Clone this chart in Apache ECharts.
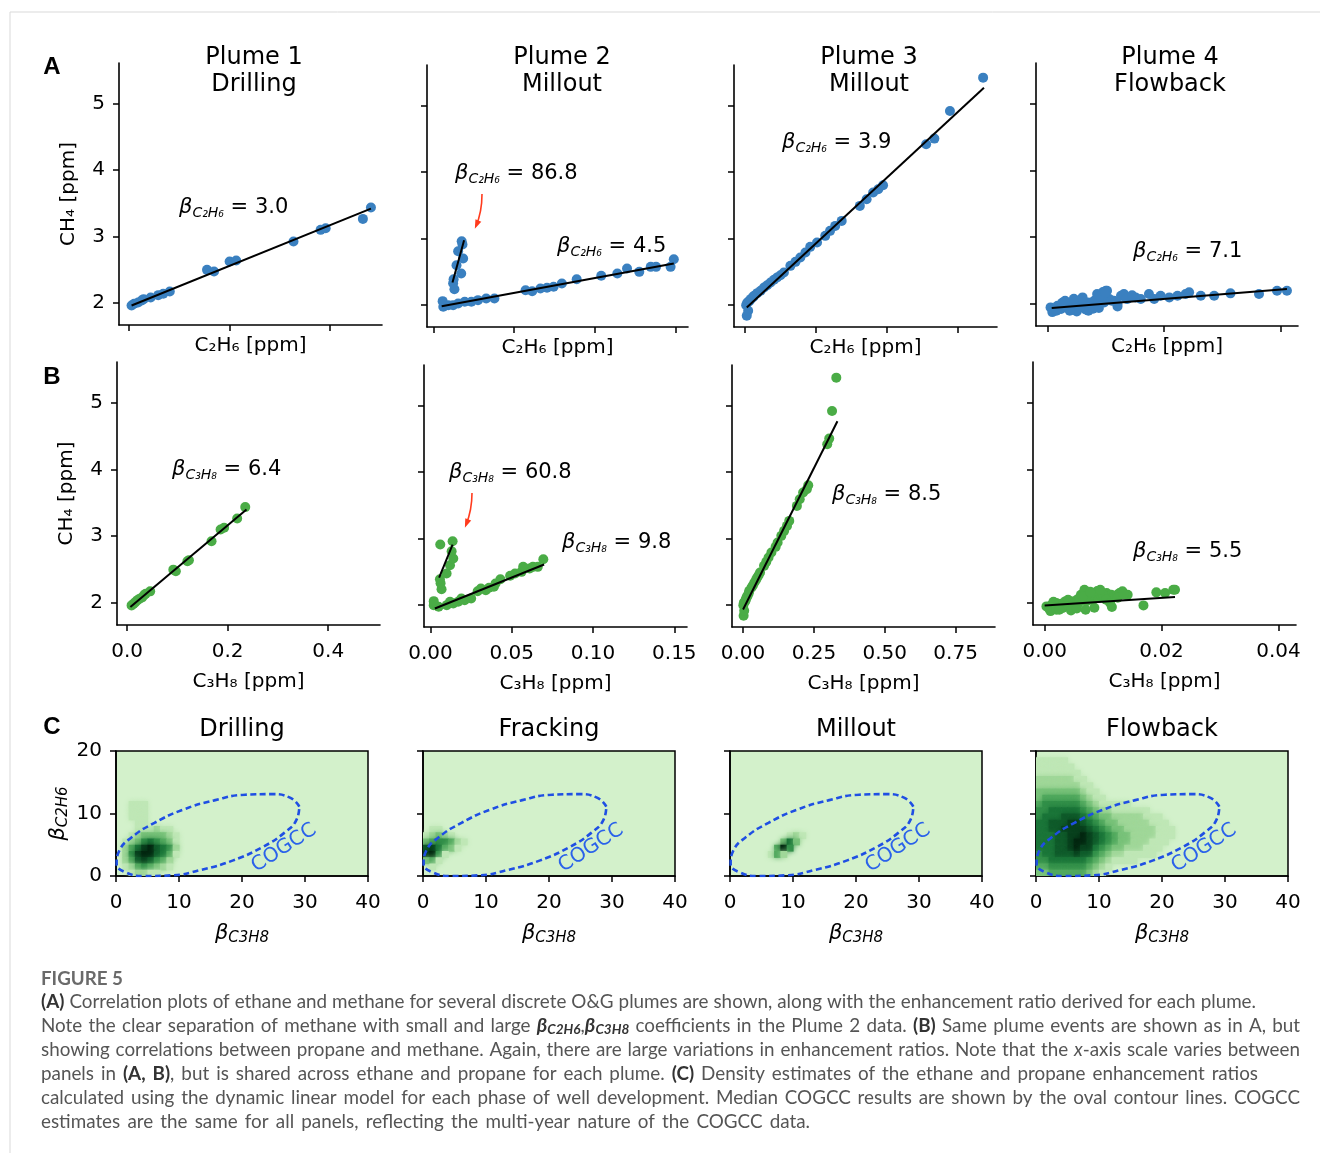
<!DOCTYPE html>
<html>
<head>
<meta charset="utf-8">
<title>Figure 5</title>
<script src="https://cdn.jsdelivr.net/npm/echarts@6.0.0/dist/echarts.min.js"></script>
<style>
html,body{margin:0;padding:0;background:#ffffff;}
#chart{width:1320px;height:1153px;}
</style>
</head>
<body>
<div id="chart"></div>
<script>
// ======================= DATA =======================
// Plume 1 (Drilling)
const plume1CH4  = [1.965,1.99,2.01,2.04,2.06,2.085,2.12,2.14,2.175,2.50,2.475,2.625,2.64,2.925,3.10,3.125,3.265,3.435];
const plume1C2H6 = [0.005,0.010,0.018,0.025,0.029,0.043,0.058,0.068,0.081,0.155,0.169,0.200,0.213,0.327,0.381,0.391,0.465,0.481];
const plume1C3H8 = [0.009,0.013,0.016,0.020,0.024,0.030,0.034,0.037,0.046,0.092,0.097,0.120,0.123,0.168,0.186,0.193,0.219,0.235];
// Plume 2 (Millout): main branch then steep branch
const plume2CH4  = [1.975,2.00,2.00,2.025,2.05,2.05,2.06,2.075,2.10,2.10,2.21,2.225,2.25,2.26,2.275,2.325,2.39,2.44,2.475,2.50,2.55,2.575,2.575,2.575,2.69,
                    2.24,2.33,2.39,2.475,2.60,2.70,2.81,2.91,2.96];
const plume2C2H6 = [0.0061,0.0092,0.0122,0.0153,0.0194,0.0235,0.0057,0.0276,0.0327,0.0378,0.0612,0.0571,0.0663,0.0704,0.0745,0.0796,0.0888,0.104,0.114,0.1276,0.120,0.1347,0.138,0.147,0.149,
                    0.0130,0.0122,0.0125,0.0172,0.0143,0.0184,0.0153,0.0180,0.0175];
const plume2C3H8 = [0.005,0.002,0.010,0.014,0.012,0.017,0.002,0.021,0.019,0.025,0.029,0.034,0.031,0.036,0.039,0.040,0.043,0.049,0.052,0.056,0.061,0.057,0.063,0.066,0.0694,
                    0.0068,0.0062,0.0058,0.0099,0.0120,0.0140,0.0130,0.0060,0.0136];
// Plume 3 (Millout)
const plume3CH4  = [1.84,1.915,2.00,2.04,2.06,2.09,2.12,2.14,2.18,2.215,2.265,2.30,2.34,2.38,2.415,2.45,2.49,2.59,2.65,2.715,2.79,2.875,2.94,3.04,3.115,3.19,3.265,3.49,3.59,3.69,3.74,3.80,4.415,4.50,4.915,5.415];
const plume3C2H6 = [0.006,0.011,0.004,0.008,0.015,0.020,0.028,0.032,0.043,0.055,0.067,0.078,0.090,0.102,0.113,0.125,0.137,0.160,0.178,0.195,0.213,0.230,0.254,0.283,0.300,0.318,0.341,0.405,0.429,0.452,0.470,0.487,0.639,0.668,0.723,0.840];
const plume3C3H8 = [0.002,0.004,0.001,0.003,0.008,0.010,0.013,0.016,0.020,0.022,0.030,0.035,0.040,0.046,0.050,0.055,0.060,0.074,0.082,0.090,0.100,0.115,0.122,0.135,0.145,0.155,0.163,0.190,0.200,0.212,0.225,0.230,0.297,0.304,0.314,0.329];
// Plume 4 (Flowback)
const plume4CH4  = [1.95,1.91,1.975,1.925,2.00,1.95,1.99,1.925,2.025,1.975,1.95,2.025,1.975,2.05,2.00,2.125,2.20,2.025,2.075,2.05,2.125,2.15,2.075,2.10,2.075,2.15,2.075,2.125,2.10,2.125,2.15,2.175,2.125,2.125,2.16,2.15,2.20,2.20,1.965,
                    1.88,1.90,2.05,2.08,1.89,2.10,1.92,2.15,1.90,2.18,2.12,1.93,2.05,1.95,2.20,2.00,1.90,2.08,2.13,1.94,2.02,2.17];
const plume4C2H6 = [0.0005,0.0011,0.0017,0.0023,0.0029,0.0034,0.0040,0.0046,0.0051,0.0057,0.0063,0.0069,0.0074,0.0080,0.0086,0.0091,0.0100,0.0097,0.0106,0.0114,0.0126,0.0131,0.0137,0.0151,0.0160,0.0174,0.0183,0.0194,0.0209,0.0223,0.0237,0.0243,0.0263,0.0286,0.0314,0.0363,0.0394,0.0411,0.0120,
                    0.0008,0.0015,0.0030,0.0045,0.0050,0.0060,0.0065,0.0085,0.0070,0.0095,0.0090,0.0078,0.0110,0.0055,0.0102,0.0120,0.0038,0.0135,0.0145,0.0088,0.0025,0.0099];
const plume4C3H8 = [0.0003,0.0008,0.0012,0.0015,0.0020,0.0024,0.0028,0.0031,0.0035,0.0038,0.0042,0.0046,0.0050,0.0055,0.0058,0.0062,0.0068,0.0071,0.0075,0.0079,0.0083,0.0088,0.0092,0.0097,0.0101,0.0106,0.0110,0.0114,0.0118,0.0124,0.0128,0.0133,0.0138,0.0142,0.0191,0.0206,0.0220,0.0223,0.0169,
                    0.0010,0.0020,0.0040,0.0060,0.0045,0.0065,0.0055,0.0080,0.0070,0.0090,0.0100,0.0085,0.0105,0.0030,0.0095,0.0112,0.0025,0.0125,0.0135,0.0115,0.0015,0.0078];

// Regression lines [[x1,y1],[x2,y2]] and the plume panel each belongs to
const fitPanel = [0, 1, 1, 2, 3];
const fitC2H6 = [
  [[0.005, 1.965], [0.481, 3.42]],
  [[0.0051, 1.985], [0.149, 2.625]],
  [[0.0118, 2.34], [0.019, 2.975]],
  [[0.006, 1.965], [0.843, 5.265]],
  [[0.0007, 1.94], [0.0411, 2.225]]
];
const fitC3H8 = [
  [[0.0066, 1.94], [0.2375, 3.40]],
  [[0.0027, 1.95], [0.0699, 2.61]],
  [[0.0053, 2.415], [0.0136, 2.91]],
  [[0.0, 1.935], [0.333, 4.76]],
  [[0.0, 1.965], [0.0223, 2.09]]
];
const betaC2H6Text = ['3.0', '86.8', '4.5', '3.9', '7.1'];
const betaC3H8Text = ['6.4', '60.8', '9.8', '8.5', '5.5'];

// Tick values
const yTicks = [2, 3, 4, 5];
const plumeXTicks = [[0, 0.2, 0.4], [0, 0.05, 0.10, 0.15], [0, 0.25, 0.50, 0.75], [0, 0.02, 0.04]];
const plumeXDecimals = [1, 2, 2, 2];
const plumeTitles = ['Plume 1\nDrilling', 'Plume 2\nMillout', 'Plume 3\nMillout', 'Plume 4\nFlowback'];
const phaseTitles = ['Drilling', 'Fracking', 'Millout', 'Flowback'];

// Density estimates (levels 0-9), one cell per unit; rows from top (topY) downwards, columns from leftX
const drillingTopY = 12, drillingLeftX = 0;
const drillingDensity = [
  '000000000000',
  '001110000000',
  '001110000000',
  '001110000000',
  '000110000000',
  '000111211000',
  '001233332100',
  '012356543100',
  '024689765200',
  '025899764100',
  '024787542000',
  '012454321000',
  '001221100000'
];
const frackingTopY = 8, frackingLeftX = 0;
const frackingDensity = [
  '0000000',
  '0110000',
  '1232100',
  '3455421',
  '7864310',
  '8951000',
  '3410000',
  '0100000',
  '0000000'
];
const milloutTopY = 6, milloutLeftX = 6;
const milloutDensity = [
  '0001210',
  '0036300',
  '0495000',
  '1420000'
];
const flowbackTopY = 18, flowbackLeftX = 0;
const flowbackDensity = [
  '111110000000000000000000000',
  '111111000000000000000000000',
  '111111100000000000000000000',
  '222222110000000000000000000',
  '222222211000000000000000000',
  '333333321100000000000000000',
  '344444432110000000000000000',
  '455555543211111000000000000',
  '556666654322111111000000000',
  '566677765433222221110000000',
  '667778876543322222111000000',
  '667788887654332222211100000',
  '666778898765433222211100000',
  '666778998765433222111000000',
  '666778988654332221110000000',
  '566777877543221111100000000',
  '556666665432111100000000000',
  '445555554321000000000000000',
  '334444443210000000000000000'
];
// COGCC median contour (oval), data units
const cogccX = [29.1, 27.7, 24.7, 20.5, 15.6, 10.6, 6.1, 2.5, 0.5, 0.1, 1.5, 4.5, 8.7, 13.6, 18.6, 23.2, 26.7, 28.7, 29.1];
const cogccY = [11.1, 12.5, 13.1, 13.0, 12.1, 10.6, 8.5, 6.2, 4.0, 2.0, 0.6, 0.0, 0.1, 1.0, 2.5, 4.6, 6.9, 9.1, 11.1];

// Caption: each line is a list of [style, text] segments
const captionTitle = 'FIGURE 5';
const captionSegments = [
  [['b', '(A)'], ['n', ' Correlation plots of ethane and methane for several discrete O&G plumes are shown, along with the enhancement ratio derived for each plume.']],
  [['n', 'Note the clear separation of methane with small and large '], ['bb', 'β'], ['bs', 'C2H6'], ['n', ','], ['bb', 'β'], ['bs', 'C3H8'], ['n', ' coefficients in the Plume 2 data. '], ['b', '(B)'], ['n', ' Same plume events are shown as in A, but']],
  [['n', 'showing correlations between propane and methane. Again, there are large variations in enhancement ratios. Note that the '], ['i', 'x'], ['n', '-axis scale varies between']],
  [['n', 'panels in '], ['b', '(A, B)'], ['n', ', but is shared across ethane and propane for each plume. '], ['b', '(C)'], ['n', ' Density estimates of the ethane and propane enhancement ratios']],
  [['n', 'calculated using the dynamic linear model for each phase of well development. Median COGCC results are shown by the oval contour lines. COGCC']],
  [['n', 'estimates are the same for all panels, reflecting the multi-year nature of the COGCC data.']]
];

// ======================= LAYOUT / STYLE =======================
const FONT = '"DejaVu Sans", sans-serif';
const CAPFONT = 'Lato, "Open Sans", sans-serif';
const gridA = [
  {left: 119, top: 63, width: 263, height: 262},
  {left: 427, top: 65, width: 261, height: 262},
  {left: 734, top: 65, width: 263, height: 262},
  {left: 1036, top: 63, width: 262, height: 263}
];
const gridB = [
  {left: 117, top: 362, width: 263, height: 263},
  {left: 424, top: 365, width: 263, height: 262},
  {left: 732, top: 365, width: 263, height: 262},
  {left: 1033, top: 362, width: 263, height: 263}
];
const gridCLeft = [116, 423, 730, 1036];
const xRange = [[-0.02, 0.503], [-0.004, 0.1578], [-0.039, 0.889], [-0.002, 0.043]];
const yRange = [1.672, 5.605];
const BLUE = '#3a80c0', GREEN = '#4aac46';
const densityColors = ['#d3f1cb', '#bfe7b6', '#a0d799', '#79c27a', '#52a95f', '#33904a', '#1c763a', '#115c2c', '#0a421f', '#052812'];
const betaPosA = [[179, 208], [455, 174], [557, 247], [782, 143], [1133, 252]];
const betaPosB = [[172, 470], [449, 473], [562, 543], [832, 495], [1133, 552]];
const titleCentersA = [254, 562, 869, 1170];
const CAP_LEFT = 41;
const captionLineWidths = [1215, 1259, 1259, 1217, 1259, 769];

const plumes = [
  {ch4: plume1CH4, c2h6: plume1C2H6, c3h8: plume1C3H8},
  {ch4: plume2CH4, c2h6: plume2C2H6, c3h8: plume2C3H8},
  {ch4: plume3CH4, c2h6: plume3C2H6, c3h8: plume3C3H8},
  {ch4: plume4CH4, c2h6: plume4C2H6, c3h8: plume4C3H8}
];
const densities = [
  [drillingDensity, drillingTopY, drillingLeftX],
  [frackingDensity, frackingTopY, frackingLeftX],
  [milloutDensity, milloutTopY, milloutLeftX],
  [flowbackDensity, flowbackTopY, flowbackLeftX]
];

const grids = [], xAxes = [], yAxes = [], series = [], heatIdx = [];
const axisLineStyle = {color: '#000', width: 1.6};
const tickStyle = {color: '#000', width: 1.5};
const labelFont = {fontFamily: FONT, fontSize: 20, color: '#000'};

function addABPanel(row, p) {
  const gi = grids.length;
  grids.push(Object.assign({containLabel: false}, row === 'A' ? gridA[p] : gridB[p]));
  xAxes.push({
    type: 'value', gridIndex: gi, min: xRange[p][0], max: xRange[p][1],
    name: row === 'A' ? 'C₂H₆ [ppm]' : 'C₃H₈ [ppm]', nameLocation: 'middle', nameGap: row === 'A' ? 11 : 47,
    nameTextStyle: labelFont,
    axisLine: {show: true, onZero: false, lineStyle: axisLineStyle},
    axisTick: {show: true, length: 6, customValues: plumeXTicks[p], lineStyle: tickStyle},
    axisLabel: Object.assign({show: row === 'B', customValues: plumeXTicks[p], margin: 17,
      formatter: v => Number(v).toFixed(plumeXDecimals[p])}, labelFont),
    splitLine: {show: false}
  });
  yAxes.push({
    type: 'value', gridIndex: gi, min: yRange[0], max: yRange[1],
    name: p === 0 ? 'CH₄ [ppm]' : '', nameLocation: 'middle', nameGap: 40, nameRotate: 90,
    nameTextStyle: labelFont,
    axisLine: {show: true, onZero: false, lineStyle: axisLineStyle},
    axisTick: {show: true, length: 6, customValues: yTicks, lineStyle: tickStyle},
    axisLabel: Object.assign({show: p === 0, customValues: yTicks, margin: 14, formatter: v => String(Math.round(v))}, labelFont),
    splitLine: {show: false}
  });
  const pl = plumes[p];
  const xs = row === 'A' ? pl.c2h6 : pl.c3h8;
  series.push({
    type: 'scatter', xAxisIndex: gi, yAxisIndex: gi, symbolSize: 10, z: 2, silent: true,
    itemStyle: {color: row === 'A' ? BLUE : GREEN, opacity: 1},
    data: xs.map((x, i) => [x, pl.ch4[i]])
  });
  const fits = row === 'A' ? fitC2H6 : fitC3H8;
  fits.forEach((f, k) => {
    if (fitPanel[k] !== p) return;
    series.push({
      type: 'line', xAxisIndex: gi, yAxisIndex: gi, data: f, symbol: 'none', z: 3, silent: true,
      lineStyle: {color: '#000', width: 2}
    });
  });
}

function densityCells(rows, topY, leftX) {
  const out = [];
  rows.forEach((row, r) => {
    for (let c = 0; c < row.length; c++) {
      const v = Number(row[c]);
      if (v > 0) out.push([leftX + c, topY - r, v]);
    }
  });
  return out;
}

const betaAxisRich = {
  b: {fontFamily: FONT, fontStyle: 'italic', fontSize: 21, color: '#000'},
  s: {fontFamily: FONT, fontStyle: 'italic', fontSize: 15, color: '#000', padding: [9, 0, 0, 0]}
};

function addCPanel(p) {
  const gi = grids.length;
  grids.push({left: gridCLeft[p], top: 751, width: 252, height: 125, containLabel: false,
    show: true, backgroundColor: densityColors[0], borderColor: '#000', borderWidth: 1.5});
  xAxes.push({
    type: 'value', gridIndex: gi, min: 0, max: 40, interval: 10,
    name: '{b|β}{s|C3H8}', nameLocation: 'middle', nameGap: 46,
    nameTextStyle: {rich: betaAxisRich},
    axisLine: {show: true, onZero: false, lineStyle: axisLineStyle},
    axisTick: {show: true, length: 6, lineStyle: tickStyle},
    axisLabel: Object.assign({show: true, margin: 17}, labelFont),
    splitLine: {show: false}
  });
  yAxes.push({
    type: 'value', gridIndex: gi, min: 0, max: 20, interval: 10,
    name: p === 0 ? '{b|β}{s|C2H6}' : '', nameLocation: 'middle', nameGap: 45, nameRotate: 90,
    nameTextStyle: {rich: betaAxisRich},
    axisLine: {show: true, onZero: false, lineStyle: axisLineStyle},
    axisTick: {show: true, length: 6, lineStyle: tickStyle},
    axisLabel: Object.assign({show: p === 0, margin: 14}, labelFont),
    splitLine: {show: false}
  });
  const d = densities[p];
  heatIdx.push(series.length);
  series.push({
    type: 'custom', xAxisIndex: gi, yAxisIndex: gi, z: 1, silent: true, clip: true,
    data: densityCells(d[0], d[1], d[2]),
    encode: {x: 0, y: 1},
    renderItem: function (params, api) {
      const x = api.value(0), y = api.value(1);
      const a = api.coord([x, y + 1]);
      const b = api.coord([x + 1, y]);
      const c = api.visual('color');
      return {type: 'rect', shape: {x: a[0], y: a[1], width: b[0] - a[0] + 0.6, height: b[1] - a[1] + 0.6},
        style: {fill: c, shadowBlur: 5, shadowColor: c}};
    }
  });
  series.push({
    type: 'line', xAxisIndex: gi, yAxisIndex: gi, z: 4, silent: true, smooth: 0.5, symbol: 'none', clip: true,
    data: cogccX.map((x, i) => [x, cogccY[i]]),
    lineStyle: {color: '#1f4fe3', width: 2.6, type: [6, 3.5]}
  });
}

for (let p = 0; p < 4; p++) addABPanel('A', p);
for (let p = 0; p < 4; p++) addABPanel('B', p);
for (let p = 0; p < 4; p++) addCPanel(p);

// ---------------- graphic texts ----------------
const graphic = [];
graphic.push({type: 'line', shape: {x1: 10, y1: 12, x2: 1320, y2: 12}, style: {stroke: '#d9d9d9', lineWidth: 1}, silent: true});
graphic.push({type: 'line', shape: {x1: 10, y1: 12, x2: 10, y2: 1153}, style: {stroke: '#d9d9d9', lineWidth: 1}, silent: true});

[['A', 67], ['B', 377], ['C', 727]].forEach(([t, y]) => {
  graphic.push({type: 'text', x: 52, y: y, silent: true,
    style: {text: t, fontFamily: '"Liberation Sans", Arial, sans-serif', fontWeight: 'bold', fontSize: 24, fill: '#000', align: 'center', verticalAlign: 'middle'}});
});
plumeTitles.forEach((t, p) => {
  graphic.push({type: 'text', x: titleCentersA[p], y: 44, silent: true,
    style: {text: t, fontFamily: FONT, fontSize: 24, lineHeight: 27, fill: '#000', align: 'center', verticalAlign: 'top'}});
});
phaseTitles.forEach((t, p) => {
  graphic.push({type: 'text', x: gridCLeft[p] + 126, y: 730, silent: true,
    style: {text: t, fontFamily: FONT, fontSize: 24, fill: '#000', align: 'center', verticalAlign: 'middle'}});
  graphic.push({type: 'text', x: gridCLeft[p] + 168, y: 848, rotation: 33 * Math.PI / 180, silent: true,
    style: {text: 'COGCC', fontFamily: FONT, fontSize: 20, fill: '#2a62ea', align: 'center', verticalAlign: 'middle'}});
});

const betaRich = {
  b: {fontFamily: FONT, fontStyle: 'italic', fontSize: 21, lineHeight: 24, fill: '#000'},
  s: {fontFamily: FONT, fontStyle: 'italic', fontSize: 14, lineHeight: 16, padding: [10, 0, 0, 0], fill: '#000'},
  t: {fontFamily: FONT, fontSize: 21, lineHeight: 24, fill: '#000'}
};
function betaLabel(gas, val, pos) {
  graphic.push({type: 'text', x: pos[0], y: pos[1], silent: true,
    style: {text: '{b|β}{s|' + gas + '}{t| = ' + val + '}', rich: betaRich, align: 'left', verticalAlign: 'middle'}});
}
betaC2H6Text.forEach((v, k) => betaLabel('C₂H₆', v, betaPosA[k]));
betaC3H8Text.forEach((v, k) => betaLabel('C₃H₈', v, betaPosB[k]));

function redArrow(x1, y1, cx, cy, x2, y2) {
  graphic.push({type: 'bezierCurve', silent: true,
    shape: {x1: x1, y1: y1, cpx1: cx, cpy1: cy, x2: x2, y2: y2},
    style: {stroke: '#ff3b1d', lineWidth: 1.6, fill: null}});
  const dx = x2 - cx, dy = y2 - cy, L = Math.hypot(dx, dy), ux = dx / L, uy = dy / L;
  const tipX = x2 + ux * 3, tipY = y2 + uy * 3;
  const bx = tipX - ux * 9, by = tipY - uy * 9;
  graphic.push({type: 'polygon', silent: true,
    shape: {points: [[tipX, tipY], [bx - uy * 3.2, by + ux * 3.2], [bx + uy * 3.2, by - ux * 3.2]]},
    style: {fill: '#ff3b1d'}});
}
redArrow(482, 194, 482, 212, 476, 226);
redArrow(472, 493, 472, 510, 466, 525);

// ---------------- caption (justified like the reference) ----------------
const mctx = document.createElement('canvas').getContext('2d');
function fontOf(st) {
  return (st.fontStyle || 'normal') + ' ' + (st.fontWeight || 'normal') + ' ' + st.fontSize + 'px ' + st.fontFamily;
}
function measure(st, t) { mctx.font = fontOf(st); return mctx.measureText(t).width; }
const capColor = '#555555';
function makeCapRich(size) {
  return {
    n: {fontFamily: CAPFONT, fontSize: size, fill: capColor, lineHeight: 20},
    b: {fontFamily: CAPFONT, fontSize: size, fontWeight: 'bold', fill: '#333333', lineHeight: 20},
    i: {fontFamily: CAPFONT, fontSize: size, fontStyle: 'italic', fill: capColor, lineHeight: 20},
    bb: {fontFamily: CAPFONT, fontSize: size + 1, fontWeight: 'bold', fontStyle: 'italic', fill: '#333333', lineHeight: 20},
    bs: {fontFamily: CAPFONT, fontSize: size * 0.72, fontWeight: 'bold', fontStyle: 'italic', fill: '#333333', lineHeight: 14, padding: [8, 0, 0, 0]}
  };
}
function lineWidth(segs, rich) {
  return segs.reduce((s, [st, txt]) => s + measure(rich[st], txt), 0);
}
const baseRich = makeCapRich(20);
const capSize = 20 * (captionLineWidths[0] - 3) / lineWidth(captionSegments[0], baseRich);
const capRich = makeCapRich(capSize);

captionSegments.forEach((segs, k) => {
  const pieces = [];
  let wordsW = 0, nSp = 0;
  segs.forEach(([st, txt]) => {
    txt.split(' ').forEach((w, i) => {
      if (i > 0) { pieces.push(null); nSp++; }
      if (w.length) { pieces.push([st, w]); wordsW += measure(capRich[st], w); }
    });
  });
  const natural = measure(capRich.n, ' ');
  const spW = nSp ? Math.max(natural * 0.7, (captionLineWidths[k] - wordsW) / nSp) : natural;
  const rich = Object.assign({}, capRich, {sp: Object.assign({}, capRich.n, {width: spW})});
  const text = pieces.map(p => p === null ? '{sp| }' : '{' + p[0] + '|' + p[1] + '}').join('');
  graphic.push({type: 'text', x: CAP_LEFT, y: 1002 + 24 * k, silent: true,
    style: {text: text, rich: rich, fontFamily: CAPFONT, fontSize: capSize, fill: capColor, align: 'left', verticalAlign: 'middle'}});
});
const titleSize = 20 * 82 / measure({fontFamily: CAPFONT, fontSize: 20, fontWeight: 'bold'}, captionTitle);
graphic.push({type: 'text', x: CAP_LEFT, y: 979, silent: true,
  style: {text: captionTitle, fontFamily: CAPFONT, fontWeight: 'bold', fontSize: titleSize, fill: '#6a6a6a', align: 'left', verticalAlign: 'middle'}});

const chart = echarts.init(document.getElementById('chart'), null, {renderer: 'canvas', width: 1320, height: 1153});
chart.setOption({
  backgroundColor: '#ffffff',
  animation: false,
  grid: grids,
  xAxis: xAxes,
  yAxis: yAxes,
  visualMap: {type: 'continuous', show: false, min: 0, max: 9, dimension: 2, seriesIndex: heatIdx,
    inRange: {color: densityColors}},
  series: series,
  graphic: graphic
});
</script>
</body>
</html>
